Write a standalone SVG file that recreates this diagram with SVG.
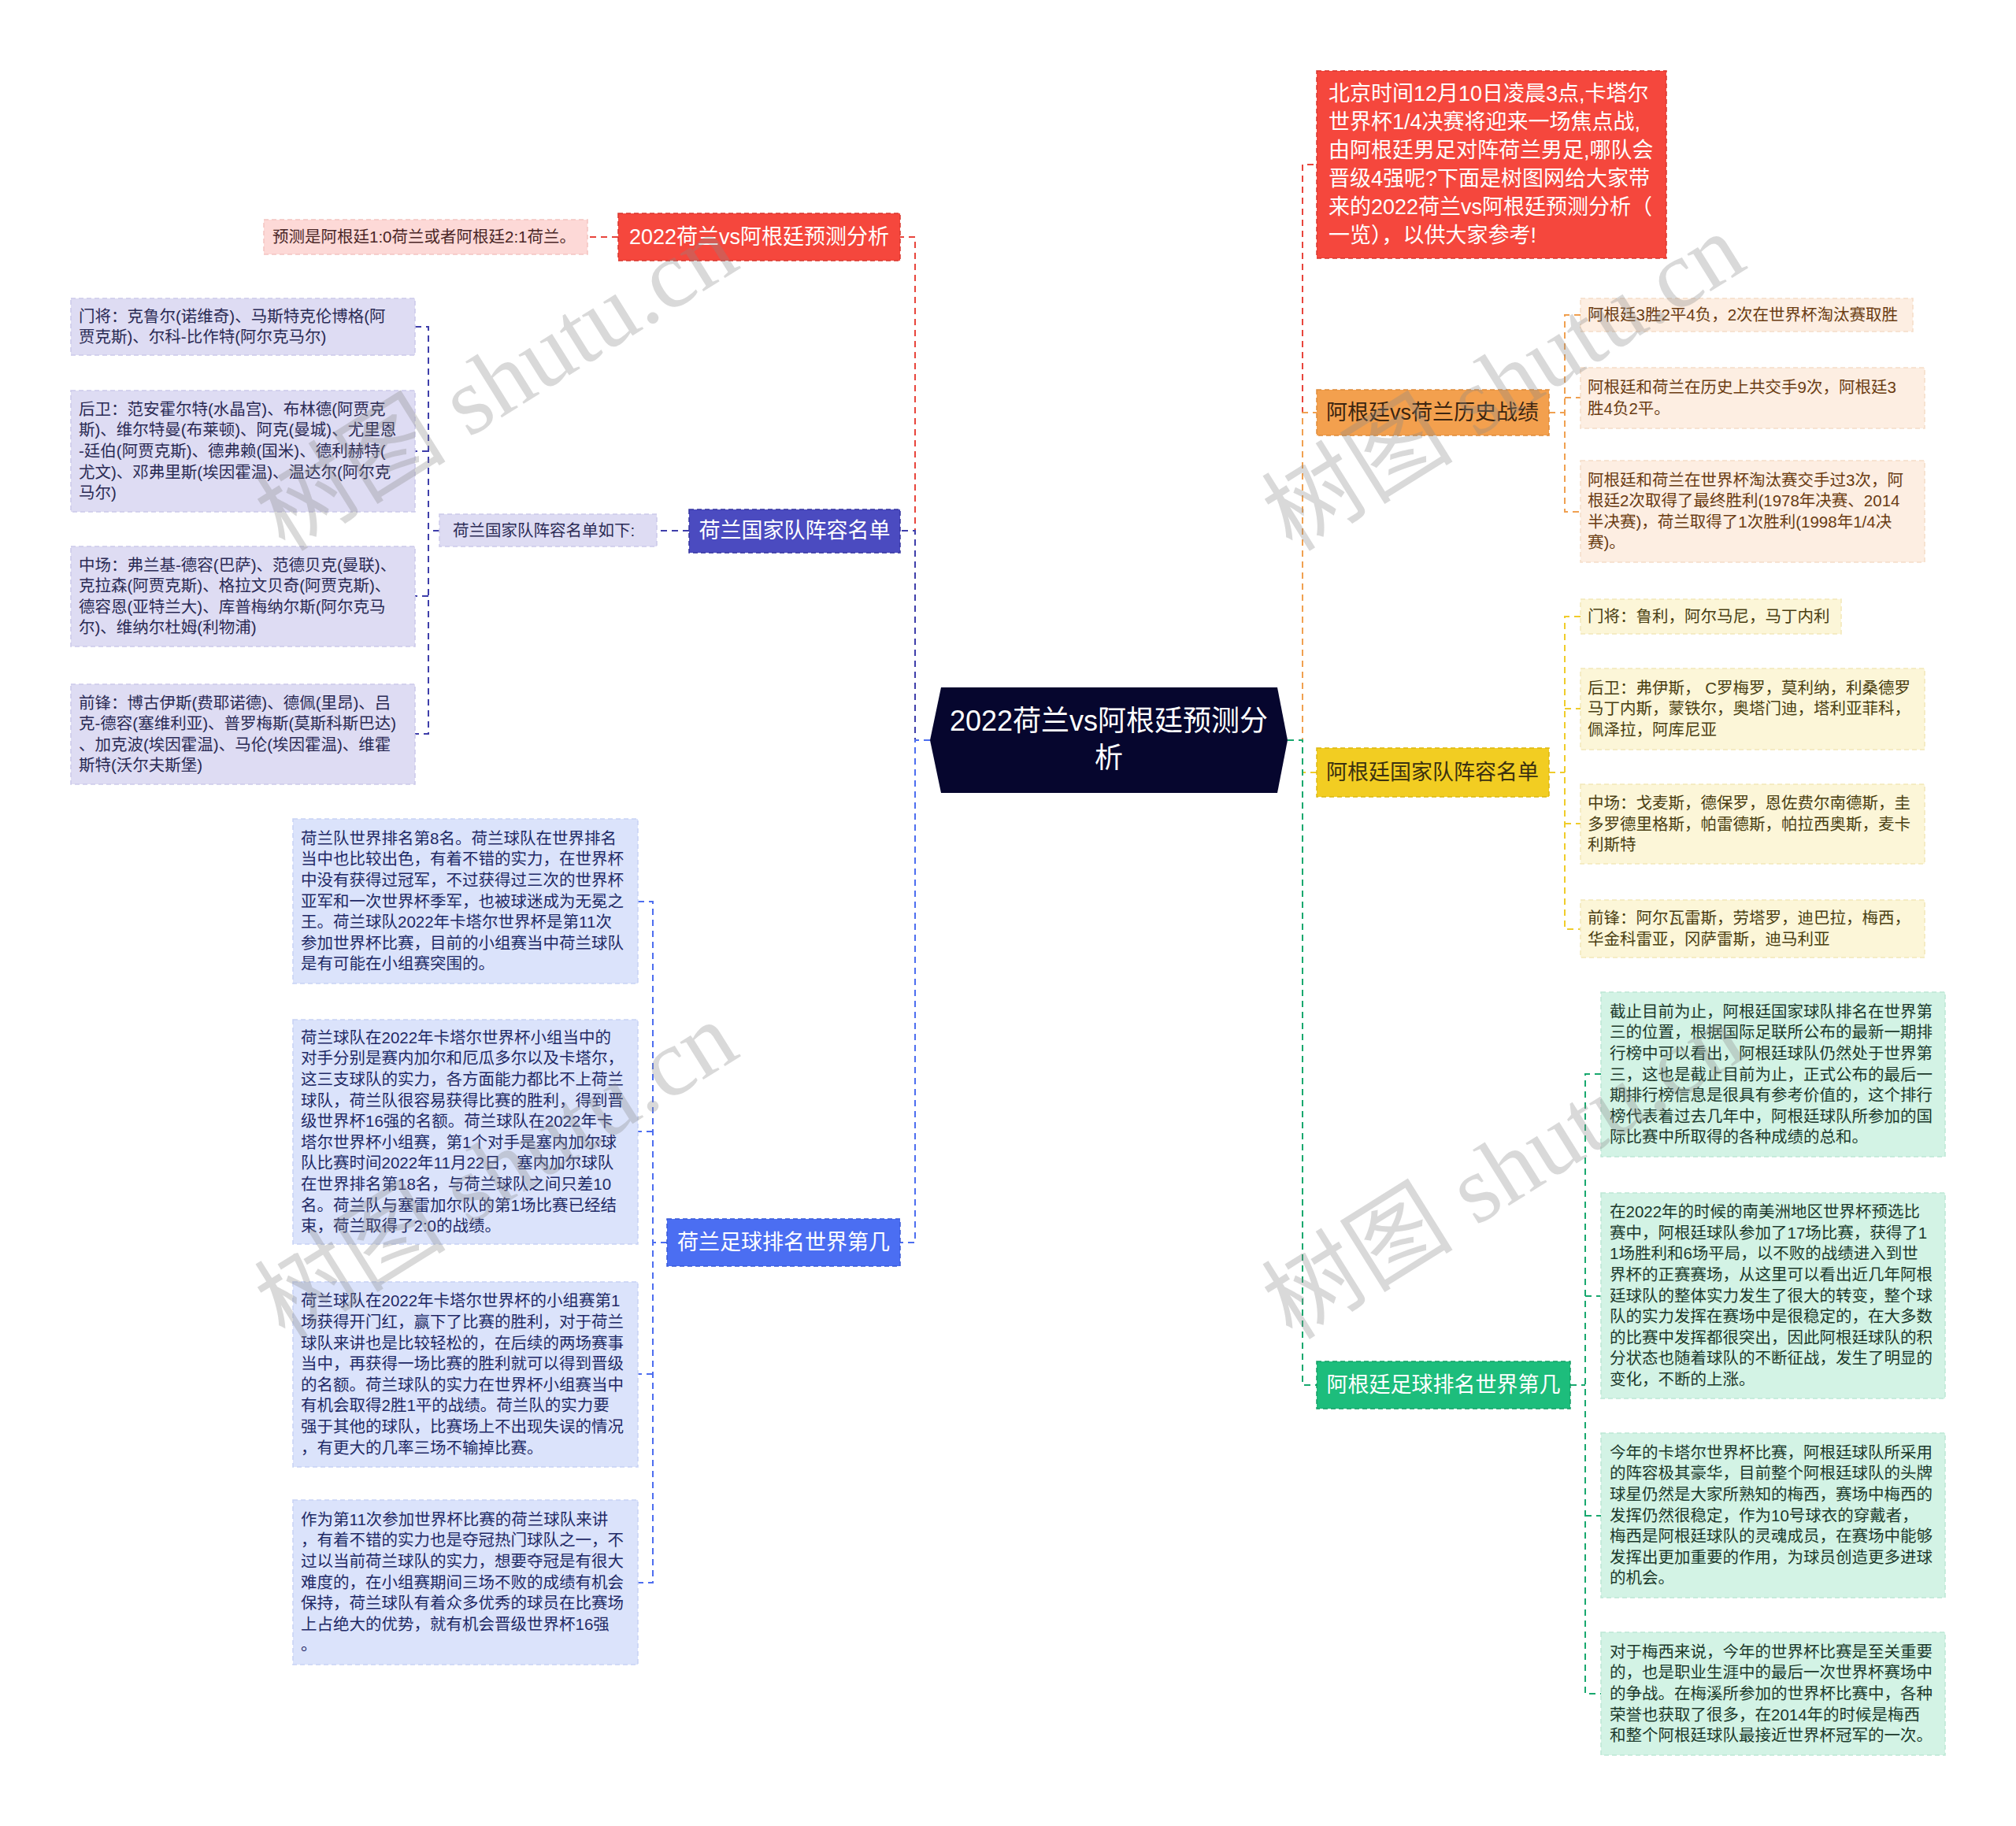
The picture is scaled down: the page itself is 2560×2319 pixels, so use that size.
<svg xmlns="http://www.w3.org/2000/svg" width="2560" height="2319" viewBox="0 0 2560 2319">
<style>
text{font-family:"Liberation Sans","Noto Sans CJK SC",sans-serif;}
.t{font-size:20.5px;}
.m{font-size:27px;text-anchor:middle;}
.w{fill:#ffffff;}
.conn path{fill:none;stroke-width:2;stroke-dasharray:8 6;}
.box{stroke-width:1.5;stroke-dasharray:6 4;}
.wm{font-family:"Liberation Serif","Noto Sans CJK SC",serif;font-size:122px;fill:#8a8a8a;opacity:0.32;}
</style>
<rect width="2560" height="2319" fill="#ffffff"/>

<g id="connectors" class="conn">
  <path d="M1181,940 H1162 V301 H1143" stroke="#e8453c"/>
  <path d="M1181,940 H1162 V674 H1143" stroke="#3e3eaa"/>
  <path d="M1181,940 H1162 V1578 H1143" stroke="#4d6ef0"/>
  <path d="M1635,940 H1654 V209 H1672" stroke="#e8453c"/>
  <path d="M1635,940 H1654 V524 H1672" stroke="#f0a050"/>
  <path d="M1635,940 H1654 V981 H1672" stroke="#f0cc2a"/>
  <path d="M1635,940 H1654 V1759 H1672" stroke="#18a86e"/>
  <path d="M785,301 H746" stroke="#e8453c"/>
  <path d="M875,674 H834" stroke="#3e3eaa"/>
  <path d="M558,674 H544 M527,415 H544 V932 H527 M544,573 H527 M544,757 H527" stroke="#3e3eaa"/>
  <path d="M847,1578 H829 M810,1145 H829 V2010 H810 M829,1437 H810 M829,1745 H810" stroke="#4d6ef0"/>
  <path d="M1967,524 H1987 M2007,400 H1987 V650 H2007 M1987,505 H2007" stroke="#f0a050"/>
  <path d="M1967,981 H1987 M2007,783 H1987 V1180 H2007 M1987,900 H2007 M1987,1046 H2007" stroke="#f0cc2a"/>
  <path d="M1994,1759 H2013 M2033,1364 H2013 V2151 H2033 M2013,1646 H2033 M2013,1925 H2033" stroke="#18a86e"/>
</g>

<g id="center">
  <polygon points="1181,940 1195,873 1622,873 1635,940 1622,1007 1195,1007" fill="#06062e"/>
  <text class="w" style="font-size:36px;text-anchor:middle"><tspan x="1408" y="928">2022荷兰vs阿根廷预测分</tspan><tspan x="1408" y="975">析</tspan></text>
</g>

<g id="nl-predict">
  <rect class="box" x="785" y="271" width="358" height="60" fill="#f5473d" stroke="#d9362d"/>
  <text class="m w" x="964" y="310">2022荷兰vs阿根廷预测分析</text>
</g>
<g id="nl-predict-1">
  <rect class="box" x="335" y="279" width="411" height="44" fill="#fdd9d7" stroke="#f4c4c1"/>
  <text class="t" x="346" y="308" fill="#4a2626">预测是阿根廷1:0荷兰或者阿根廷2:1荷兰。</text>
</g>

<g id="nl-roster">
  <rect class="box" x="875" y="647" width="268" height="55" fill="#4b4bc0" stroke="#3535a0"/>
  <text class="m w" x="1009" y="683">荷兰国家队阵容名单</text>
</g>
<g id="nl-roster-sub">
  <rect class="box" x="558" y="653" width="276" height="41" fill="#dedcf3" stroke="#cbc9ea"/>
  <text class="t" x="575" y="681" fill="#2b2b55">荷兰国家队阵容名单如下:</text>
</g>
<g id="nl-gk">
  <rect class="box" x="90" y="379" width="437" height="72" fill="#dedcf3" stroke="#cbc9ea"/>
  <text class="t" fill="#2b2b55"><tspan x="100" y="409">门将：克鲁尔(诺维奇)、马斯特克伦博格(阿</tspan><tspan x="100" y="435">贾克斯)、尔科-比作特(阿尔克马尔)</tspan></text>
</g>
<g id="nl-df">
  <rect class="box" x="90" y="496" width="437" height="154" fill="#dedcf3" stroke="#cbc9ea"/>
  <text class="t" fill="#2b2b55"><tspan x="100" y="527">后卫：范安霍尔特(水晶宫)、布林德(阿贾克</tspan><tspan x="100" y="553">斯)、维尔特曼(布莱顿)、阿克(曼城)、尤里恩</tspan><tspan x="100" y="580">-廷伯(阿贾克斯)、德弗赖(国米)、德利赫特(</tspan><tspan x="100" y="607">尤文)、邓弗里斯(埃因霍温)、温达尔(阿尔克</tspan><tspan x="100" y="633">马尔)</tspan></text>
</g>
<g id="nl-mf">
  <rect class="box" x="90" y="694" width="437" height="127" fill="#dedcf3" stroke="#cbc9ea"/>
  <text class="t" fill="#2b2b55"><tspan x="100" y="725">中场：弗兰基-德容(巴萨)、范德贝克(曼联)、</tspan><tspan x="100" y="751">克拉森(阿贾克斯)、格拉文贝奇(阿贾克斯)、</tspan><tspan x="100" y="778">德容恩(亚特兰大)、库普梅纳尔斯(阿尔克马</tspan><tspan x="100" y="804">尔)、维纳尔杜姆(利物浦)</tspan></text>
</g>
<g id="nl-fw">
  <rect class="box" x="90" y="869" width="437" height="127" fill="#dedcf3" stroke="#cbc9ea"/>
  <text class="t" fill="#2b2b55"><tspan x="100" y="900">前锋：博古伊斯(费耶诺德)、德佩(里昂)、吕</tspan><tspan x="100" y="926">克-德容(塞维利亚)、普罗梅斯(莫斯科斯巴达)</tspan><tspan x="100" y="953">、加克波(埃因霍温)、马伦(埃因霍温)、维霍</tspan><tspan x="100" y="979">斯特(沃尔夫斯堡)</tspan></text>
</g>

<g id="nl-rank">
  <rect class="box" x="847" y="1548" width="296" height="60" fill="#4b6ef2" stroke="#3a5ad8"/>
  <text class="m w" x="995" y="1587">荷兰足球排名世界第几</text>
</g>
<g id="nl-rank-1">
  <rect class="box" x="372" y="1040" width="438" height="209" fill="#dbe3fb" stroke="#c7d2f5"/>
  <text class="t" fill="#1f2a66"><tspan x="382" y="1072">荷兰队世界排名第8名。荷兰球队在世界排名</tspan><tspan x="382" y="1098">当中也比较出色，有着不错的实力，在世界杯</tspan><tspan x="382" y="1125">中没有获得过冠军，不过获得过三次的世界杯</tspan><tspan x="382" y="1152">亚军和一次世界杯季军，也被球迷成为无冕之</tspan><tspan x="382" y="1178">王。荷兰球队2022年卡塔尔世界杯是第11次</tspan><tspan x="382" y="1205">参加世界杯比赛，目前的小组赛当中荷兰球队</tspan><tspan x="382" y="1231">是有可能在小组赛突围的。</tspan></text>
</g>
<g id="nl-rank-2">
  <rect class="box" x="372" y="1295" width="438" height="285" fill="#dbe3fb" stroke="#c7d2f5"/>
  <text class="t" fill="#1f2a66"><tspan x="382" y="1325">荷兰球队在2022年卡塔尔世界杯小组当中的</tspan><tspan x="382" y="1351">对手分别是赛内加尔和厄瓜多尔以及卡塔尔，</tspan><tspan x="382" y="1378">这三支球队的实力，各方面能力都比不上荷兰</tspan><tspan x="382" y="1405">球队，荷兰队很容易获得比赛的胜利，得到晋</tspan><tspan x="382" y="1431">级世界杯16强的名额。荷兰球队在2022年卡</tspan><tspan x="382" y="1458">塔尔世界杯小组赛，第1个对手是塞内加尔球</tspan><tspan x="382" y="1484">队比赛时间2022年11月22日，塞内加尔球队</tspan><tspan x="382" y="1511">在世界排名第18名，与荷兰球队之间只差10</tspan><tspan x="382" y="1538">名。荷兰队与塞雷加尔队的第1场比赛已经结</tspan><tspan x="382" y="1564">束，荷兰取得了2:0的战绩。</tspan></text>
</g>
<g id="nl-rank-3">
  <rect class="box" x="372" y="1628" width="438" height="235" fill="#dbe3fb" stroke="#c7d2f5"/>
  <text class="t" fill="#1f2a66"><tspan x="382" y="1659">荷兰球队在2022年卡塔尔世界杯的小组赛第1</tspan><tspan x="382" y="1686">场获得开门红，赢下了比赛的胜利，对于荷兰</tspan><tspan x="382" y="1713">球队来讲也是比较轻松的，在后续的两场赛事</tspan><tspan x="382" y="1739">当中，再获得一场比赛的胜利就可以得到晋级</tspan><tspan x="382" y="1766">的名额。荷兰球队的实力在世界杯小组赛当中</tspan><tspan x="382" y="1792">有机会取得2胜1平的战绩。荷兰队的实力要</tspan><tspan x="382" y="1819">强于其他的球队，比赛场上不出现失误的情况</tspan><tspan x="382" y="1846">，有更大的几率三场不输掉比赛。</tspan></text>
</g>
<g id="nl-rank-4">
  <rect class="box" x="372" y="1905" width="438" height="209" fill="#dbe3fb" stroke="#c7d2f5"/>
  <text class="t" fill="#1f2a66"><tspan x="382" y="1937">作为第11次参加世界杯比赛的荷兰球队来讲</tspan><tspan x="382" y="1963">，有着不错的实力也是夺冠热门球队之一，不</tspan><tspan x="382" y="1990">过以当前荷兰球队的实力，想要夺冠是有很大</tspan><tspan x="382" y="2017">难度的，在小组赛期间三场不败的成绩有机会</tspan><tspan x="382" y="2043">保持，荷兰球队有着众多优秀的球员在比赛场</tspan><tspan x="382" y="2070">上占绝大的优势，就有机会晋级世界杯16强</tspan><tspan x="382" y="2096">。</tspan></text>
</g>

<g id="intro">
  <rect class="box" x="1672" y="90" width="444" height="238" fill="#f5473d" stroke="#d9362d"/>
  <text class="w" style="font-size:27px"><tspan x="1687" y="128">北京时间12月10日凌晨3点,卡塔尔</tspan><tspan x="1687" y="164">世界杯1/4决赛将迎来一场焦点战,</tspan><tspan x="1687" y="200">由阿根廷男足对阵荷兰男足,哪队会</tspan><tspan x="1687" y="236">晋级4强呢?下面是树图网给大家带</tspan><tspan x="1687" y="272">来的2022荷兰vs阿根廷预测分析（</tspan><tspan x="1687" y="308">一览），以供大家参考!</tspan></text>
</g>

<g id="ar-history">
  <rect class="box" x="1672" y="495" width="295" height="58" fill="#f3a04e" stroke="#e08a38"/>
  <text class="m" x="1819" y="533" fill="#3a2410">阿根廷vs荷兰历史战绩</text>
</g>
<g id="ar-history-1">
  <rect class="box" x="2007" y="379" width="422" height="42" fill="#fdeee2" stroke="#f5ddc8"/>
  <text class="t" x="2016" y="407" fill="#6a3c12">阿根廷3胜2平4负，2次在世界杯淘汰赛取胜</text>
</g>
<g id="ar-history-2">
  <rect class="box" x="2007" y="467" width="437" height="77" fill="#fdeee2" stroke="#f5ddc8"/>
  <text class="t" fill="#6a3c12"><tspan x="2016" y="499">阿根廷和荷兰在历史上共交手9次，阿根廷3</tspan><tspan x="2016" y="526">胜4负2平。</tspan></text>
</g>
<g id="ar-history-3">
  <rect class="box" x="2007" y="585" width="437" height="129" fill="#fdeee2" stroke="#f5ddc8"/>
  <text class="t" fill="#6a3c12"><tspan x="2016" y="617">阿根廷和荷兰在世界杯淘汰赛交手过3次，阿</tspan><tspan x="2016" y="643">根廷2次取得了最终胜利(1978年决赛、2014</tspan><tspan x="2016" y="670">半决赛)，荷兰取得了1次胜利(1998年1/4决</tspan><tspan x="2016" y="696">赛)。</tspan></text>
</g>

<g id="ar-roster">
  <rect class="box" x="1672" y="950" width="295" height="62" fill="#f2cd22" stroke="#dcb810"/>
  <text class="m" x="1819" y="990" fill="#3a3010">阿根廷国家队阵容名单</text>
</g>
<g id="ar-gk">
  <rect class="box" x="2007" y="761" width="331" height="44" fill="#fcf6d8" stroke="#f2e8b8"/>
  <text class="t" x="2016" y="790" fill="#4a3f12">门将：鲁利，阿尔马尼，马丁内利</text>
</g>
<g id="ar-df">
  <rect class="box" x="2007" y="849" width="437" height="103" fill="#fcf6d8" stroke="#f2e8b8"/>
  <text class="t" fill="#4a3f12"><tspan x="2016" y="881">后卫：弗伊斯， C罗梅罗，莫利纳，利桑德罗</tspan><tspan x="2016" y="907">马丁内斯，蒙铁尔，奥塔门迪，塔利亚菲科，</tspan><tspan x="2016" y="934">佩泽拉，阿库尼亚</tspan></text>
</g>
<g id="ar-mf">
  <rect class="box" x="2007" y="996" width="437" height="101" fill="#fcf6d8" stroke="#f2e8b8"/>
  <text class="t" fill="#4a3f12"><tspan x="2016" y="1027">中场：戈麦斯，德保罗，恩佐费尔南德斯，圭</tspan><tspan x="2016" y="1054">多罗德里格斯，帕雷德斯，帕拉西奥斯，麦卡</tspan><tspan x="2016" y="1080">利斯特</tspan></text>
</g>
<g id="ar-fw">
  <rect class="box" x="2007" y="1143" width="437" height="73" fill="#fcf6d8" stroke="#f2e8b8"/>
  <text class="t" fill="#4a3f12"><tspan x="2016" y="1173">前锋：阿尔瓦雷斯，劳塔罗，迪巴拉，梅西，</tspan><tspan x="2016" y="1200">华金科雷亚，冈萨雷斯，迪马利亚</tspan></text>
</g>

<g id="ar-rank">
  <rect class="box" x="1672" y="1729" width="322" height="60" fill="#1dbd7c" stroke="#129e64"/>
  <text class="m w" x="1833" y="1768">阿根廷足球排名世界第几</text>
</g>
<g id="ar-rank-1">
  <rect class="box" x="2033" y="1260" width="437" height="209" fill="#d3f3e5" stroke="#bde8d5"/>
  <text class="t" fill="#1c3a2c"><tspan x="2044" y="1292">截止目前为止，阿根廷国家球队排名在世界第</tspan><tspan x="2044" y="1318">三的位置，根据国际足联所公布的最新一期排</tspan><tspan x="2044" y="1345">行榜中可以看出，阿根廷球队仍然处于世界第</tspan><tspan x="2044" y="1372">三，这也是截止目前为止，正式公布的最后一</tspan><tspan x="2044" y="1398">期排行榜信息是很具有参考价值的，这个排行</tspan><tspan x="2044" y="1425">榜代表着过去几年中，阿根廷球队所参加的国</tspan><tspan x="2044" y="1451">际比赛中所取得的各种成绩的总和。</tspan></text>
</g>
<g id="ar-rank-2">
  <rect class="box" x="2033" y="1515" width="437" height="261" fill="#d3f3e5" stroke="#bde8d5"/>
  <text class="t" fill="#1c3a2c"><tspan x="2044" y="1546">在2022年的时候的南美洲地区世界杯预选比</tspan><tspan x="2044" y="1573">赛中，阿根廷球队参加了17场比赛，获得了1</tspan><tspan x="2044" y="1599">1场胜利和6场平局，以不败的战绩进入到世</tspan><tspan x="2044" y="1626">界杯的正赛赛场，从这里可以看出近几年阿根</tspan><tspan x="2044" y="1653">廷球队的整体实力发生了很大的转变，整个球</tspan><tspan x="2044" y="1679">队的实力发挥在赛场中是很稳定的，在大多数</tspan><tspan x="2044" y="1706">的比赛中发挥都很突出，因此阿根廷球队的积</tspan><tspan x="2044" y="1732">分状态也随着球队的不断征战，发生了明显的</tspan><tspan x="2044" y="1759">变化，不断的上涨。</tspan></text>
</g>
<g id="ar-rank-3">
  <rect class="box" x="2033" y="1820" width="437" height="209" fill="#d3f3e5" stroke="#bde8d5"/>
  <text class="t" fill="#1c3a2c"><tspan x="2044" y="1852">今年的卡塔尔世界杯比赛，阿根廷球队所采用</tspan><tspan x="2044" y="1878">的阵容极其豪华，目前整个阿根廷球队的头牌</tspan><tspan x="2044" y="1905">球星仍然是大家所熟知的梅西，赛场中梅西的</tspan><tspan x="2044" y="1932">发挥仍然很稳定，作为10号球衣的穿戴者，</tspan><tspan x="2044" y="1958">梅西是阿根廷球队的灵魂成员，在赛场中能够</tspan><tspan x="2044" y="1985">发挥出更加重要的作用，为球员创造更多进球</tspan><tspan x="2044" y="2011">的机会。</tspan></text>
</g>
<g id="ar-rank-4">
  <rect class="box" x="2033" y="2073" width="437" height="156" fill="#d3f3e5" stroke="#bde8d5"/>
  <text class="t" fill="#1c3a2c"><tspan x="2044" y="2105">对于梅西来说，今年的世界杯比赛是至关重要</tspan><tspan x="2044" y="2131">的，也是职业生涯中的最后一次世界杯赛场中</tspan><tspan x="2044" y="2158">的争战。在梅溪所参加的世界杯比赛中，各种</tspan><tspan x="2044" y="2185">荣誉也获取了很多，在2014年的时候是梅西</tspan><tspan x="2044" y="2211">和整个阿根廷球队最接近世界杯冠军的一次。</tspan></text>
</g>

<g id="watermarks">
  <text class="wm" transform="translate(362,702) rotate(-32)">树图 shutu.cn</text>
  <text class="wm" transform="translate(362,1703) rotate(-32)">树图 shutu.cn</text>
  <text class="wm" transform="translate(1641,702) rotate(-32)">树图 shutu.cn</text>
  <text class="wm" transform="translate(1641,1703) rotate(-32)">树图 shutu.cn</text>
</g>
</svg>
